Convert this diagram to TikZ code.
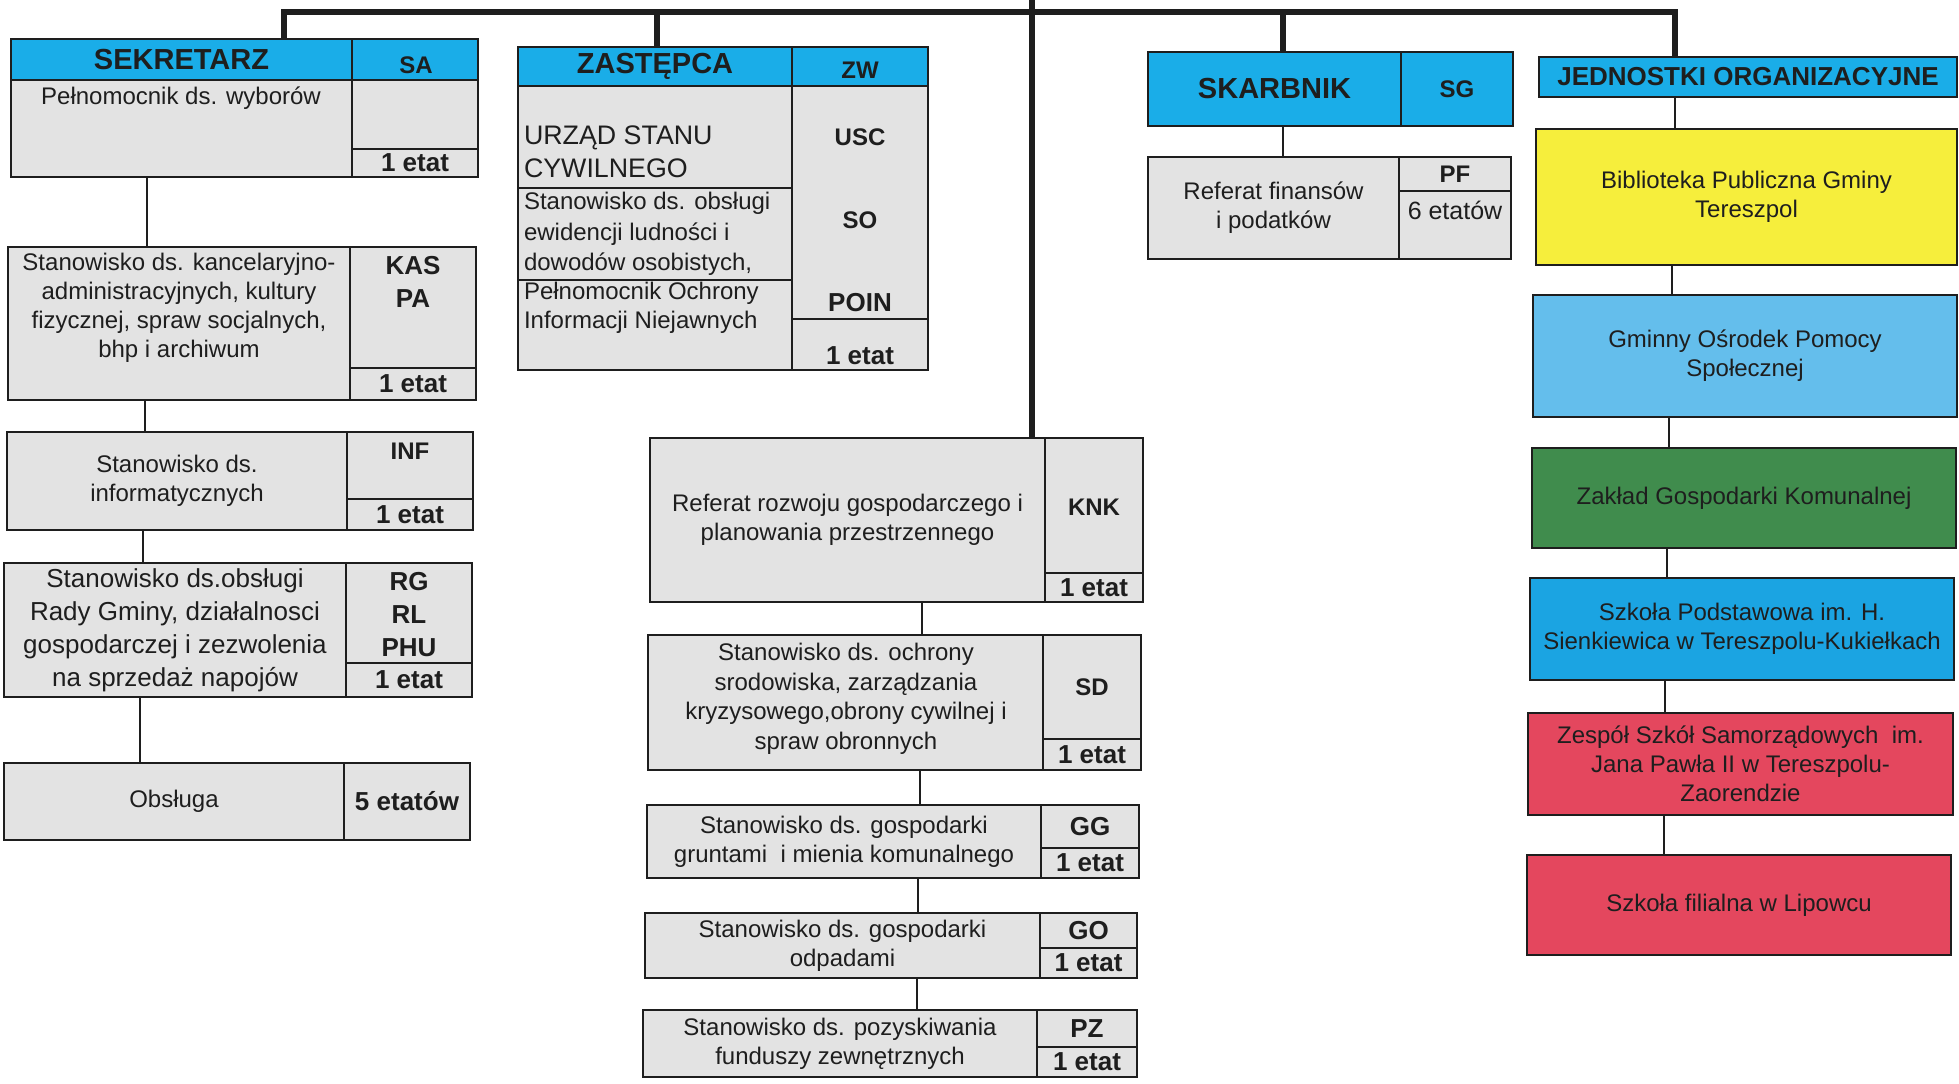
\documentclass[tikz,border=0pt]{standalone}
\usepackage{fontspec}
\setmainfont{Liberation Sans}
\definecolor{hdrblue}{HTML}{1AADE8}
\definecolor{cellgray}{HTML}{E3E3E3}
\definecolor{ylw}{HTML}{F6EE3C}
\definecolor{ltblue}{HTML}{64BEEC}
\definecolor{grn}{HTML}{408C4D}
\definecolor{spblue}{HTML}{1BA4E2}
\definecolor{rd}{HTML}{E4475E}
\definecolor{ink}{HTML}{1E1E1E}
\tikzset{
  cellbox/.style={draw=ink, line width=1pt, inner sep=0pt, outer sep=0pt, text=ink, align=center},
  cgray/.style={fill=cellgray},
  chdr/.style={fill=hdrblue},
  cyel/.style={fill=ylw},
  cltb/.style={fill=ltblue},
  cgrn/.style={fill=grn},
  cspb/.style={fill=spblue},
  cred/.style={fill=rd},
  ftxt/.style={font=\fontsize{12}{14.5}\selectfont},
  fbigtxt/.style={font=\fontsize{13}{16.5}\selectfont},
  fhead/.style={font=\fontsize{14.5}{17}\selectfont\bfseries},
  fcode/.style={font=\fontsize{12}{16.5}\selectfont\bfseries},
  fetat/.style={font=\fontsize{13}{16.5}\selectfont\bfseries},
  tnode/.style={inner sep=0pt, outer sep=0pt, text=ink, align=center},
  thin/.style={draw=ink, line width=1pt},
  bus/.style={draw=ink, line width=2.8pt, line join=miter},
}
\newcommand\cellnode[7]{%
  \node[cellbox,#6,minimum width={(#4-#2)*0.5pt},minimum height={(#5-#3)*0.5pt}] (#1) at ({(#2+#4)/2},{(#3+#5)/2}) {#7};}
\begin{document}
\begin{tikzpicture}[x=0.5pt,y=-0.5pt]
\useasboundingbox (0,0) rectangle (1959,1083);
\fill[white] (0,0) rectangle (1959,1083);

% ---------- SEKRETARZ column
\cellnode{sekh}{11}{39}{352}{80}{chdr,fhead}{SEKRETARZ}
\cellnode{sekc}{352}{39}{478}{80}{chdr}{}
\node[tnode,fcode] (tsa) at (416,65) {SA};
\cellnode{sekm}{11}{80}{352}{177}{cgray}{}
\node[tnode,ftxt] (tsekm) at (181,98) {Pełnomocnik ds. wyborów};
\cellnode{sekr}{352}{80}{478}{149}{cgray}{}
\cellnode{seke}{352}{149}{478}{177}{cgray,fetat}{1 etat}

\cellnode{kasm}{8}{247}{350}{400}{cgray}{}
\node[tnode,ftxt] (tkas) at (179,308) {Stanowisko ds. kancelaryjno-\\administracyjnych, kultury\\fizycznej, spraw socjalnych,\\bhp i archiwum};
\cellnode{kasr}{350}{247}{476}{368}{cgray}{}
\node[tnode,fetat] (tkasr) at (413,282) {KAS\\PA};
\cellnode{kase}{350}{368}{476}{400}{cgray,fetat}{1 etat}

\cellnode{infm}{7}{432}{347}{530}{cgray,ftxt}{Stanowisko ds.\\informatycznych}
\cellnode{infr}{347}{432}{473}{499}{cgray}{}
\node[tnode,fcode] (tinf) at (410,451) {INF};
\cellnode{infe}{347}{499}{473}{530}{cgray,fetat}{1 etat}

\cellnode{rgm}{4}{563}{346}{697}{cgray,fbigtxt}{Stanowisko ds.obsługi\\Rady Gminy, działalnosci\\gospodarczej i zezwolenia\\na sprzedaż napojów}
\cellnode{rgr}{346}{563}{472}{663}{cgray}{}
\node[tnode,fetat] (trg) at (409,615) {RG\\RL\\PHU};
\cellnode{rge}{346}{663}{472}{697}{cgray,fetat}{1 etat}

\cellnode{obm}{4}{763}{344}{840}{cgray,ftxt}{Obsługa}
\cellnode{obr}{344}{763}{470}{840}{cgray,fetat}{5 etatów}

\coordinate (ca) at (147,0);
\coordinate (cb) at (145,0);
\coordinate (cc) at (143,0);
\coordinate (cd) at (140,0);
\draw[thin] (sekm.south -| ca) -- (kasm.north -| ca);
\draw[thin] (kasm.south -| cb) -- (infm.north -| cb);
\draw[thin] (infm.south -| cc) -- (rgm.north -| cc);
\draw[thin] (rgm.south -| cd) -- (obm.north -| cd);

% ---------- ZASTEPCA
\cellnode{zah}{518}{47}{792}{86}{chdr,fhead}{ZASTĘPCA}
\cellnode{zac}{792}{47}{928}{86}{chdr}{}
\node[tnode,fcode] (tzw) at (860,70) {ZW};
\cellnode{zam}{518}{86}{792}{370}{cgray}{}
\cellnode{zar}{792}{86}{928}{319}{cgray}{}
\cellnode{zae}{792}{319}{928}{370}{cgray}{}
\coordinate (zl1) at (518,188);
\coordinate (zl2) at (518,280);
\draw[thin] (zl1) -- (zl1 -| zam.east);
\draw[thin] (zl2) -- (zl2 -| zam.east);
\node[tnode,anchor=west,align=left,font=\fontsize{13.4}{16.5}\selectfont] (tusc) at (524,152) {URZĄD STANU\\CYWILNEGO};
\node[tnode,anchor=west,align=left,font=\fontsize{12}{15.2}\selectfont] (tso) at (524,234) {Stanowisko ds. obsługi\\ewidencji ludności i\\dowodów osobistych,};
\node[tnode,anchor=west,align=left,font=\fontsize{12}{14.5}\selectfont] (tpo) at (524,308) {Pełnomocnik Ochrony\\Informacji Niejawnych};
\node[tnode,fcode] (cusc) at (860,137) {USC};
\node[tnode,fcode] (cso) at (860,220) {SO};
\node[tnode,fetat] (cpoin) at (860,303) {POIN};
\node[tnode,fetat] (cze) at (860,356) {1 etat};

% ---------- KNK column
\cellnode{knkm}{650}{438}{1045}{602}{cgray,ftxt}{Referat rozwoju gospodarczego i\\planowania przestrzennego}
\cellnode{knkr}{1045}{438}{1143}{573}{cgray}{}
\node[tnode,fcode] (tknk) at (1094,507) {KNK};
\cellnode{knke}{1045}{573}{1143}{602}{cgray,fetat}{1 etat}

\cellnode{sdm}{648}{635}{1043}{770}{cgray}{}
\node[tnode,font=\fontsize{12}{14.75}\selectfont] (tsd) at (846,699) {Stanowisko ds. ochrony\\srodowiska, zarządzania\\kryzysowego,obrony cywilnej i\\spraw obronnych};
\cellnode{sdr}{1043}{635}{1141}{739}{cgray,fcode}{SD}
\cellnode{sde}{1043}{739}{1141}{770}{cgray,fetat}{1 etat}

\cellnode{ggm}{647}{805}{1041}{878}{cgray,ftxt}{Stanowisko ds. gospodarki\\gruntami\ \ i mienia komunalnego}
\cellnode{ggr}{1041}{805}{1139}{848}{cgray,fetat}{GG}
\cellnode{gge}{1041}{848}{1139}{878}{cgray,fetat}{1 etat}

\cellnode{gom}{645}{913}{1040}{978}{cgray,ftxt}{Stanowisko ds. gospodarki\\odpadami}
\cellnode{gor}{1040}{913}{1137}{948}{cgray,fetat}{GO}
\cellnode{goe}{1040}{948}{1137}{978}{cgray,fetat}{1 etat}

\cellnode{pzm}{643}{1010}{1037}{1077}{cgray,ftxt}{Stanowisko ds. pozyskiwania\\funduszy zewnętrznych}
\cellnode{pzr}{1037}{1010}{1137}{1047}{cgray,fetat}{PZ}
\cellnode{pze}{1037}{1047}{1137}{1077}{cgray,fetat}{1 etat}

\coordinate (ce) at (922,0);
\coordinate (cf) at (920,0);
\coordinate (cg) at (918,0);
\coordinate (ch) at (917,0);
\draw[thin] (knkm.south -| ce) -- (sdm.north -| ce);
\draw[thin] (sdm.south -| cf) -- (ggm.north -| cf);
\draw[thin] (ggm.south -| cg) -- (gom.north -| cg);
\draw[thin] (gom.south -| ch) -- (pzm.north -| ch);

% ---------- SKARBNIK
\cellnode{skh}{1148}{52}{1401}{126}{chdr,fhead}{SKARBNIK}
\cellnode{skc}{1401}{52}{1513}{126}{chdr,fcode}{SG}
\cellnode{rfm}{1148}{157}{1399}{259}{cgray,ftxt}{Referat finansów\\i podatków}
\cellnode{rfr}{1399}{157}{1511}{191}{cgray,fcode}{PF}
\cellnode{rfe}{1399}{191}{1511}{259}{cgray}{}
\node[tnode,font=\fontsize{12.5}{15}\selectfont] (trfe) at (1455,210) {6 etatów};

% ---------- JEDNOSTKI
\cellnode{jo}{1539}{57}{1957}{97}{chdr,font=\fontsize{13}{15}\selectfont\bfseries}{JEDNOSTKI ORGANIZACYJNE}
\cellnode{bib}{1536}{129}{1957}{265}{cyel,ftxt}{Biblioteka Publiczna Gminy\\Tereszpol}
\cellnode{gops}{1533}{295}{1957}{417}{cltb,ftxt}{Gminny Ośrodek Pomocy\\Społecznej}
\cellnode{zgk}{1532}{448}{1956}{548}{cgrn,ftxt}{Zakład Gospodarki Komunalnej}
\cellnode{sp}{1530}{578}{1954}{680}{cspb,ftxt}{Szkoła Podstawowa im. H.\\Sienkiewica w Tereszpolu-Kukiełkach}
\cellnode{zss}{1528}{713}{1953}{815}{cred,ftxt}{Zespół Szkół Samorządowych\ \ im.\\Jana Pawła II w Tereszpolu-\\Zaorendzie}
\cellnode{sf}{1527}{855}{1951}{955}{cred,ftxt}{Szkoła filialna w Lipowcu}

\coordinate (ci) at (1283,0);
\coordinate (cj) at (1675,0);
\coordinate (ck) at (1672,0);
\coordinate (cl) at (1669,0);
\coordinate (cm) at (1667,0);
\coordinate (cn) at (1665,0);
\coordinate (co) at (1664,0);
\draw[thin] (skh.south -| ci) -- (rfm.north -| ci);
\draw[thin] (jo.south -| cj) -- (bib.north -| cj);
\draw[thin] (bib.south -| ck) -- (gops.north -| ck);
\draw[thin] (gops.south -| cl) -- (zgk.north -| cl);
\draw[thin] (zgk.south -| cm) -- (sp.north -| cm);
\draw[thin] (sp.south -| cn) -- (zss.north -| cn);
\draw[thin] (zss.south -| co) -- (sf.north -| co);

% ---------- bus lines
\coordinate (bl) at (284,12);
\coordinate (br) at (1675,12);
\coordinate (bz) at (657,12);
\coordinate (bs) at (1283,12);
\coordinate (top) at (1032,0);
\draw[bus] (sekh.north -| bl) -- (bl) -- (br) -- (jo.north -| br);
\draw[bus] (bz) -- (zah.north -| bz);
\draw[bus] (bs) -- (skh.north -| bs);
\draw[bus] (top) -- (knkm.north -| top);
\end{tikzpicture}
\end{document}
